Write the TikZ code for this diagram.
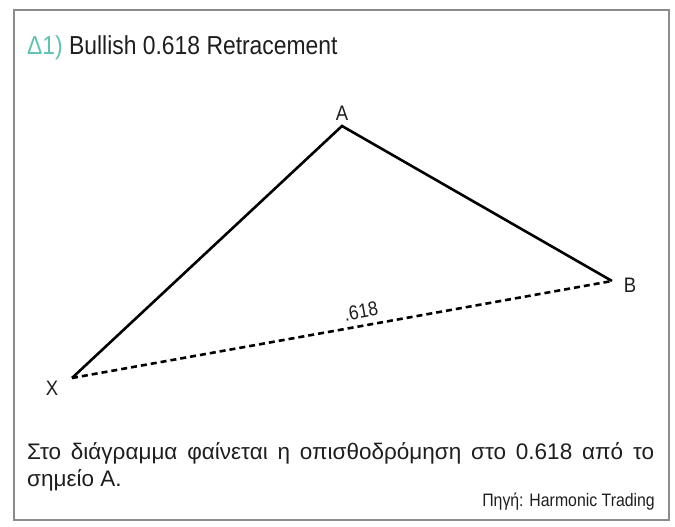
\documentclass[tikz,border=0pt]{standalone}
\usepackage{fontspec}
\setmainfont{Liberation Sans}[FakeStretch=0.88]
\newfontfamily\bodyfont{Liberation Sans}
\usetikzlibrary{positioning}
\definecolor{teal1}{RGB}{95,195,180}
\definecolor{ink}{RGB}{30,30,30}
\definecolor{frame}{RGB}{140,140,140}

\begin{document}
\begin{tikzpicture}[x=1pt, y=1pt, text=ink,
    leg/.style = {line width=2.6pt, line join=miter},
    retr/.style = {line width=2.6pt, dash pattern=on 6pt off 4pt},
    pt/.style = {font=\fontsize{21}{24}\selectfont, inner sep=0pt}]
            \useasboundingbox (0,0) rectangle (675,527);
            \draw[frame, line width=1.6pt] (14,7) rectangle (669,517);
            % title and text
            \node[anchor=base west, inner sep=0pt, font=\fontsize{26}{28}\selectfont] (title) at (27,472)
                {\textcolor{teal1}{Δ1)} Bullish 0.618 Retracement};
            \node[anchor=north west, inner sep=0pt, text width=627pt, align=justify,
                font=\bodyfont\fontsize{22.5}{27.5}\selectfont] (note) at (27,85)
                {Στο διάγραμμα φαίνεται η οπισθοδρόμηση στο 0.618 από το\linebreak σημείο Α.};
            \node[anchor=base east, inner sep=0pt, font=\fontsize{18}{20}\selectfont] (src) at (655,20)
                {Πηγή: Harmonic Trading};
            % pattern points
            \coordinate (X) at (72,149);
            \coordinate (A) at (342,401);
            \coordinate (B) at (612,246);
            \node[pt] (lX) at (52,139) {X};
            \node[pt] (lA) at (342,414) {A};
            \node[pt] (lB) at (630,242) {B};
            \draw[leg] (X) -- (A) -- (B);
            \draw[retr] (X) -- node[pos=0.54, sloped, above=6pt, inner sep=0pt,
                font=\fontsize{20}{22}\selectfont] (r618) {.618} (B);
        \end{tikzpicture}
\end{document}
